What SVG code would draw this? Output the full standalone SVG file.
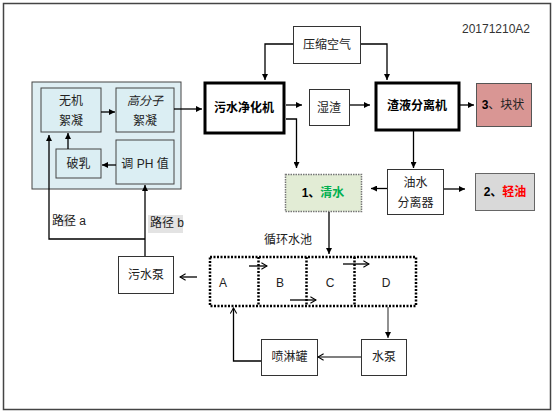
<svg xmlns="http://www.w3.org/2000/svg" width="554" height="413" viewBox="0 0 554 413">
<defs>
<marker id="ah" viewBox="0 0 10 10" refX="10" refY="5" markerWidth="6" markerHeight="6" orient="auto" markerUnits="userSpaceOnUse"><path d="M0,0 L10,5 L0,10 z" fill="#000"/></marker>
<marker id="oh" viewBox="0 0 10 10" refX="9" refY="5" markerWidth="8" markerHeight="8" orient="auto" markerUnits="userSpaceOnUse"><path d="M2,1 L9,5 L2,9" fill="none" stroke="#000" stroke-width="1.3"/></marker>
</defs>
<style>
text{font-family:"Liberation Sans","Noto Sans CJK SC",sans-serif;font-size:12px;fill:#222;text-anchor:middle;dominant-baseline:central}
.b{font-weight:bold;fill:#000}
.box{fill:#fff;stroke:#333;stroke-width:1}
.thick{fill:#fff;stroke:#000;stroke-width:3}
.inner{fill:#dbeef3;stroke:#444;stroke-width:1}
.dot{fill:none;stroke:#000;stroke-width:2.5;stroke-dasharray:2 1.5}
.ln{fill:none;stroke:#000;stroke-width:1.3}
.lg{fill:none;stroke:#555;stroke-width:1.3}
</style>
<rect x="3.5" y="3.5" width="547" height="406" fill="#fff" stroke="#444" stroke-width="1.5"/>
<text x="496" y="29" style="fill:#333">20171210A2</text>

<g id="container"><rect x="32" y="82" width="149" height="107" fill="#deeef3" stroke="#444" stroke-width="1"/></g>
<g id="wuji"><rect class="inner" x="41" y="88" width="60" height="44"/><text x="71" y="101">无机</text><text x="71" y="121">絮凝</text></g>
<g id="gaofenzi"><rect class="inner" x="116" y="88" width="58" height="44"/><text x="145" y="101" style="font-style:italic">高分子</text><text x="145" y="121">絮凝</text></g>
<g id="poru"><rect class="inner" x="56" y="149" width="45" height="29"/><text x="78.5" y="164">破乳</text></g>
<g id="tiaoph"><rect class="inner" x="116" y="140" width="58" height="44"/><text x="145" y="164">调 PH 值</text></g>

<g id="jinghua"><rect class="thick" x="205" y="83" width="79" height="50"/><text class="b" x="244" y="108">污水净化机</text></g>
<g id="yasuo"><rect class="box" x="293.5" y="26.5" width="67" height="37"/><text x="327" y="45">压缩空气</text></g>
<g id="shizha"><rect class="box" x="309.5" y="89.5" width="40" height="36"/><text x="329" y="108">湿渣</text></g>
<g id="zhaye"><rect class="thick" x="376" y="83" width="83" height="47"/><text class="b" x="417" y="106">渣液分离机</text></g>
<g id="kuaizhuang"><rect x="476.5" y="83.5" width="55" height="43" fill="#d99694" stroke="#555"/><text x="503" y="105"><tspan class="b">3</tspan>、块状</text></g>
<g id="qingshui"><rect x="285.5" y="174.5" width="76" height="37" fill="#e2ecd5" stroke="#777" stroke-width="1.5" stroke-dasharray="1.5 1"/><text x="323" y="193" class="b">1、<tspan style="fill:#00b050">清水</tspan></text></g>
<g id="youshui"><rect class="box" x="387.5" y="169.5" width="56" height="45"/><text x="415.5" y="183">油水</text><text x="415.5" y="203">分离器</text></g>
<g id="qingyou"><rect x="475.5" y="173.5" width="59" height="37" fill="#d9d9d9" stroke="#666"/><text x="505" y="192" class="b">2、<tspan style="fill:#ff0000">轻油</tspan></text></g>
<g id="wushuibeng"><rect class="box" x="118.5" y="256.5" width="55" height="37"/><text x="146" y="275">污水泵</text></g>
<g id="pool">
<rect class="dot" x="210" y="257" width="206" height="49"/>
<line class="dot" x1="258.5" y1="257" x2="258.5" y2="306"/>
<line class="dot" x1="306.5" y1="257" x2="306.5" y2="306"/>
<line class="dot" x1="354.5" y1="257" x2="354.5" y2="306"/>
<text x="223" y="283">A</text><text x="280" y="283">B</text><text x="330" y="283">C</text><text x="386" y="283">D</text>
<text x="288" y="240">循环水池</text>
</g>
<g id="penlin"><rect class="box" x="261.5" y="339.5" width="56" height="36"/><text x="289.5" y="357">喷淋罐</text></g>
<g id="shuibeng"><rect class="box" x="361.5" y="339.5" width="45" height="36"/><text x="384" y="357">水泵</text></g>

<g id="labels">
<rect x="63" y="214" width="8" height="13" fill="#e6e6e6"/>
<text x="52" y="220.5" style="text-anchor:start">路径 a</text>
<rect x="148" y="215" width="35" height="18" fill="#e3e3e3"/>
<text x="150" y="223" style="text-anchor:start">路径 b</text>
</g>

<g id="connectors">
<path class="ln" d="M101,112 H115" marker-end="url(#ah)"/>
<path class="ln" d="M174,109 H202" marker-end="url(#ah)"/>
<path class="ln" d="M68,149 V133" marker-end="url(#ah)"/>
<path class="ln" d="M116,165 H102" marker-end="url(#ah)"/>
<path class="ln" d="M145,256 V185" marker-end="url(#ah)"/>
<path class="ln" d="M145,239 H49 V135" marker-end="url(#ah)"/>
<path class="ln" d="M293,44 H265 V80" marker-end="url(#ah)"/>
<path class="ln" d="M361,44 H387 V80" marker-end="url(#ah)"/>
<path class="ln" d="M286,105 H302" marker-end="url(#ah)"/>
<path class="ln" d="M350,105 H370" marker-end="url(#ah)"/>
<path class="ln" d="M460,105 H474" marker-end="url(#ah)"/>
<path class="ln" d="M286,119 H296.5 V168" marker-end="url(#ah)"/>
<path class="ln" d="M413.5,131 V168" marker-end="url(#ah)"/>
<path class="ln" d="M387,188.5 H371" marker-end="url(#ah)"/>
<path class="ln" d="M444,189 H465" marker-end="url(#ah)"/>
<path class="ln" d="M329,212 V254" marker-end="url(#ah)"/>
<path class="ln" d="M197,277 H180" marker-end="url(#oh)"/>
<path class="ln" d="M249,266 H267" marker-end="url(#oh)"/>
<path class="ln" d="M290,300 H316" marker-end="url(#oh)"/>
<path class="ln" d="M343,264 H369" marker-end="url(#oh)"/>
<path class="lg" d="M388,307 V338" marker-end="url(#ah)"/>
<path class="lg" d="M361,357 H318" marker-end="url(#oh)"/>
<path class="ln" d="M261,361 H233.5 V308" marker-end="url(#oh)"/>
</g>
</svg>
